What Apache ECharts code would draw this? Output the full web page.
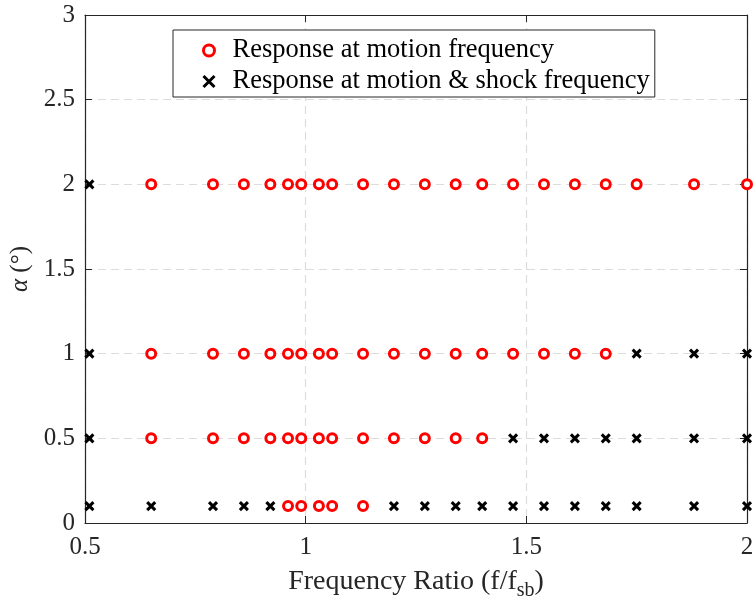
<!DOCTYPE html>
<html>
<head>
<meta charset="utf-8">
<script src="https://cdn.jsdelivr.net/npm/echarts@6/dist/echarts.min.js"></script>
<style>
  html, body { margin: 0; padding: 0; background: #fff; }
  #chart { width: 753px; height: 602px; }
</style>
</head>
<body>
<div id="chart"></div>
<script>
// Frequency ratios tested (f/f_sb)
const freqRatios = [0.51, 0.65, 0.79, 0.86, 0.92, 0.96, 0.99, 1.03, 1.06, 1.13,
  1.20, 1.27, 1.34, 1.40, 1.47, 1.54, 1.61, 1.68, 1.75, 1.88, 2.00];

// Pitch amplitudes alpha (deg)
const alphas = [0.1, 0.5, 1, 2];

// Response type per amplitude row, one entry per frequency ratio:
// 'M' = response at motion frequency, 'S' = response at motion & shock frequency
const responseAt01 = ['S','S','S','S','S','M','M','M','M','M','S','S','S','S','S','S','S','S','S','S','S'];
const responseAt05 = ['S','M','M','M','M','M','M','M','M','M','M','M','M','M','S','S','S','S','S','S','S'];
const responseAt1  = ['S','M','M','M','M','M','M','M','M','M','M','M','M','M','M','M','M','M','S','S','S'];
const responseAt2  = ['S','M','M','M','M','M','M','M','M','M','M','M','M','M','M','M','M','M','M','M','M'];

const xTicks = [0.5, 1, 1.5, 2];
const yTicks = [0, 0.5, 1, 1.5, 2, 2.5, 3];

const seriesNames = ['Response at motion frequency', 'Response at motion & shock frequency'];

const rows = [responseAt01, responseAt05, responseAt1, responseAt2];
const motionPts = [];
const shockPts = [];
rows.forEach((row, i) => {
  row.forEach((t, j) => {
    const p = [freqRatios[j], alphas[i]];
    if (t === 'M') motionPts.push(p); else shockPts.push(p);
  });
});

const FONT = 'Liberation Serif';
const AX = '#262626';
const crossPath = 'path://M0,0L10,10M10,0L0,10';

const boxAxis = {
  axisLine: { show: true, onZero: false, lineStyle: { color: AX, width: 1.2 } },
  axisTick: { show: true, inside: true, length: 7, lineStyle: { color: AX } },
  axisLabel: { show: false },
  splitLine: { show: false }
};
const gridLine = { show: true, lineStyle: { color: '#dcdcdc', type: [8, 5], width: 1.2 } };

const chart = echarts.init(document.getElementById('chart'));
chart.setOption({
  backgroundColor: '#fff',
  animation: false,
  grid: { left: 85, right: 6, top: 15, bottom: 79, containLabel: false, outerBoundsMode: 'none' },
  legend: {
    orient: 'vertical',
    left: 173,
    top: 30,
    backgroundColor: '#fff',
    borderColor: AX,
    borderWidth: 1,
    padding: [7, 5, 2, 28],
    itemGap: 4,
    itemWidth: 11,
    itemHeight: 11,
    textStyle: { fontFamily: FONT, fontSize: 26.5, color: '#000', padding: [0, 0, 0, 13] },
    data: [
      { name: seriesNames[0], icon: 'circle',
        itemStyle: { color: '#fff', borderColor: '#ff0000', borderWidth: 3 } },
      { name: seriesNames[1], icon: crossPath,
        itemStyle: { color: 'none', borderColor: '#000', borderWidth: 3 } }
    ]
  },
  xAxis: [Object.assign({
    type: 'value', min: xTicks[0], max: xTicks[xTicks.length - 1], interval: 0.5,
    name: '{t|Frequency Ratio (f/f}{s|sb}{t|)}',
    nameLocation: 'middle', nameGap: 40,
    nameTextStyle: { rich: {
      t: { fontFamily: FONT, fontSize: 28, color: '#262626' },
      s: { fontFamily: FONT, fontSize: 20, color: '#262626', padding: [18, 0, 0, 0] }
    } }
  }, boxAxis, {
    axisLabel: { show: true, fontFamily: FONT, fontSize: 25, color: '#262626', margin: 12,
      formatter: v => String(v) },
    splitLine: gridLine
  }), Object.assign({
    type: 'value', min: xTicks[0], max: xTicks[xTicks.length - 1], interval: 0.5, position: 'top'
  }, boxAxis)],
  yAxis: [Object.assign({
    type: 'value', min: yTicks[0], max: yTicks[yTicks.length - 1], interval: 0.5,
    name: '{a|α}{t| (°)}',
    nameLocation: 'middle', nameGap: 47, nameRotate: 90,
    nameTextStyle: { rich: {
      a: { fontFamily: FONT, fontSize: 25, fontStyle: 'italic', color: '#262626' },
      t: { fontFamily: FONT, fontSize: 25, color: '#262626' }
    } }
  }, boxAxis, {
    axisLabel: { show: true, fontFamily: FONT, fontSize: 25, color: '#262626', margin: 10,
      formatter: v => String(v) },
    splitLine: gridLine
  }), Object.assign({
    type: 'value', min: yTicks[0], max: yTicks[yTicks.length - 1], interval: 0.5, position: 'right'
  }, boxAxis)],
  series: [{
    name: seriesNames[0],
    type: 'scatter',
    data: motionPts,
    symbol: 'circle',
    symbolSize: 9,
    itemStyle: { color: '#fff', borderColor: '#ff0000', borderWidth: 3, opacity: 1 },
    z: 3
  }, {
    name: seriesNames[1],
    type: 'scatter',
    data: shockPts,
    symbol: crossPath,
    symbolSize: 8,
    itemStyle: { color: 'none', borderColor: '#000', borderWidth: 3, opacity: 1 },
    z: 3
  }]
});
</script>
</body>
</html>
